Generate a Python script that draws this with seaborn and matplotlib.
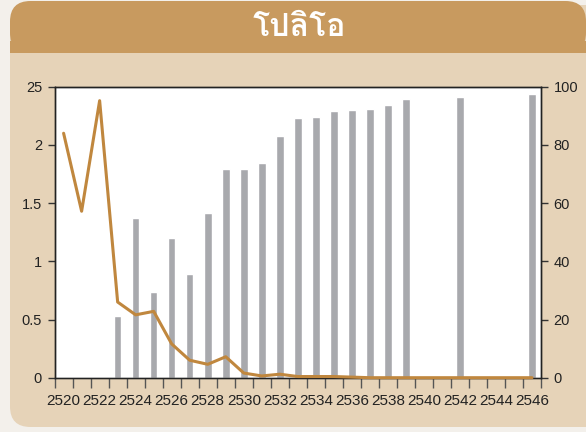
import numpy as np
import pandas as pd
import matplotlib
matplotlib.use("Agg")
import matplotlib.pyplot as plt
import seaborn as sns
from matplotlib import font_manager, ft2font
from matplotlib.patches import FancyBboxPatch, Rectangle

# data
years = list(range(2520, 2547))
coverage = [np.nan, np.nan, np.nan, 21.2, 54.9, 29.4, 48.0, 35.7, 56.6, 71.7,
            71.7, 73.8, 83.0, 89.2, 89.6, 91.7, 92.0, 92.4, 93.7, 95.8,
            np.nan, np.nan, 96.5, np.nan, np.nan, np.nan, 97.5]
incidence = [2.10, 1.43, 2.38, 0.65, 0.54, 0.57, 0.29, 0.15, 0.115, 0.18,
             0.04, 0.015, 0.03, 0.01, 0.01, 0.01, 0.005, 0.0, 0.0, 0.0,
             0.0, 0.0, 0.0, 0.0, 0.0, 0.0, 0.0]
left_ticks = [0, 0.5, 1, 1.5, 2, 2.5]
left_labels = ["0", "0.5", "1", "1.5", "2", "25"]
right_ticks = [0, 20, 40, 60, 80, 100]
title = "โปลิโอ"

BANNER = "#C89A5F"
PANEL = "#E6D3B8"
OUTER = "#F3F0EB"
BAR = "#A8A9AD"
LINE = "#C0873E"
TEXT = "#222222"


def thai_font():
    # look for an installed font that has Thai glyphs, bold if possible
    found = []
    for f in font_manager.fontManager.ttflist:
        try:
            if 0x0E42 in ft2font.FT2Font(f.fname).get_charmap():
                found.append(f)
        except Exception:
            pass
    if not found:
        return "DejaVu Sans"
    found.sort(key=lambda f: f.weight in ("bold", 700), reverse=True)
    return found[0].name


sns.set_style("white")
plt.rcParams["font.family"] = ["Liberation Sans", "DejaVu Sans"]

df = pd.DataFrame({"year": [str(y) for y in years], "coverage": coverage})

fig = plt.figure(figsize=(5.86, 4.32), dpi=100)
fig.patch.set_facecolor(OUTER)

# rounded panel and banner, behind the axes
W, H = 586, 432
panel = FancyBboxPatch((10 / W, 5 / H), 600 / W, 422 / H,
                       boxstyle="round,pad=0,rounding_size=0.035",
                       transform=fig.transFigure, facecolor=PANEL,
                       edgecolor="none", mutation_aspect=W / H, zorder=-3)
fig.patches.append(panel)
banner = FancyBboxPatch((10 / W, 379 / H), 576 / W, 52 / H,
                        boxstyle="round,pad=0,rounding_size=0.035",
                        transform=fig.transFigure, facecolor=BANNER,
                        edgecolor="none", mutation_aspect=W / H, zorder=-2)
fig.patches.append(banner)
fig.patches.append(Rectangle((10 / W, 379 / H), 576 / W, 12 / H,
                             transform=fig.transFigure, facecolor=BANNER,
                             edgecolor="none", zorder=-2))
fig.text(299 / W, 1 - 28 / H, title, color="white", fontsize=23,
         fontweight="bold", ha="center", va="center",
         family=[thai_font(), "DejaVu Sans"])

ax = fig.add_axes([54.6 / W, 1 - 377.7 / H, (541 - 54.6) / W, (377.7 - 86.7) / H])
ax.set_facecolor("white")

# bars: coverage on the right axis
sns.barplot(data=df, x="year", y="coverage", order=df["year"], color=BAR,
            width=0.42, saturation=1, ax=ax, zorder=2)
ax.set_ylim(0, 100)
ax.set_xlim(-0.5, len(years) - 0.5)
ax.set_xlabel("")
ax.set_ylabel("")

# line: incidence on the left axis
ax2 = ax.twinx()
sns.lineplot(x=np.arange(len(years)), y=incidence, color=LINE, linewidth=2.2,
             ax=ax2, clip_on=False, zorder=5)
ax2.set_ylim(0, 2.5)
ax2.set_xlim(-0.5, len(years) - 0.5)

# swap sides: twinx puts the first axis on the left
ax.yaxis.tick_right()
ax.set_yticks(right_ticks)
ax.tick_params(axis="y", direction="out", length=5, width=1, color="#333333",
               left=False, right=True, labelleft=False, labelright=True,
               labelsize=10.5, labelcolor=TEXT, pad=4)
ax2.yaxis.tick_left()
ax2.set_yticks(left_ticks)
ax2.set_yticklabels(left_labels)
ax2.tick_params(axis="y", direction="out", length=5, width=1, color="#333333",
                left=True, right=False, labelleft=True, labelright=False,
                labelsize=10.5, labelcolor=TEXT, pad=4)
ax2.set_ylabel("")

# x ticks: marks at category boundaries, labels every other year
ax.set_xticks(np.arange(-0.5, len(years), 1.0))
ax.set_xticklabels([])
ax.set_xticks(np.arange(0, len(years), 2), minor=True)
ax.set_xticklabels([str(y) for y in years[::2]], minor=True)
ax.tick_params(axis="x", which="major", direction="out", length=7, width=1,
               color="#555555", bottom=True)
ax.tick_params(axis="x", which="minor", length=0, pad=12, labelsize=11,
               labelcolor=TEXT)

for a in (ax, ax2):
    for s in a.spines.values():
        s.set_visible(True)
        s.set_color("#222222")
        s.set_linewidth(1)
ax.spines["bottom"].set_color("#555555")

fig.savefig("out.png", dpi=100, facecolor=fig.get_facecolor())
